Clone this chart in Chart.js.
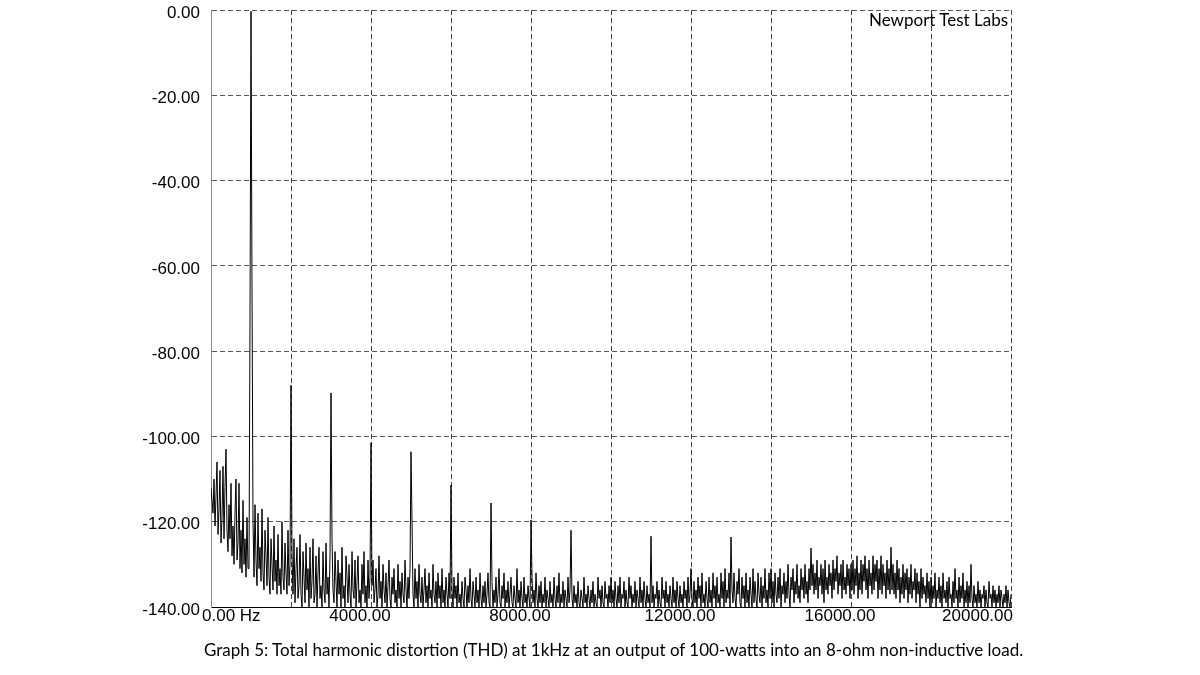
<!DOCTYPE html>
<html>
<head>
<meta charset="utf-8">
<script src="https://cdn.jsdelivr.net/npm/chart.js@4"></script>
<style>
  html, body { margin: 0; padding: 0; background: #fff; }
  #wrap { position: relative; width: 1200px; height: 675px; overflow: hidden; }
  #thdChart { position: absolute; left: 0; top: 0; }
  .brand { position: absolute; left: 869px; top: 9px; font: 17px Lato, "Open Sans", sans-serif; color: #000; white-space: nowrap; }
  .caption { position: absolute; left: 204px; top: 639px; font: 17px Lato, "Open Sans", sans-serif; color: #000; white-space: nowrap; }
</style>
</head>
<body>
<div id="wrap">
  <canvas id="thdChart" width="1200" height="675"></canvas>
  <div class="brand">Newport Test Labs</div>
  <div class="caption">Graph 5: Total harmonic distortion (THD) at 1kHz at an output of 100-watts into an 8-ohm non-inductive load.</div>
</div>
<script>
// шаг по частоте (Гц) между соседними точками спектра
const BIN_HZ = 25;

// уровни в dB, по 40 точек на каждый кГц (0 ... 20000 Гц)
const levelsDb = [
  // 0 - 975
  -112, -115, -118, -110, -121, -114, -106, -123, -117, -108,
  -125, -119, -107, -124, -112, -103, -122, -127, -116, -124,
  -111, -128, -121, -130, -118, -110, -129, -125, -111, -131,
  -122, -132, -115, -130, -124, -133, -119, -131, -131, -72,
  // 1000 - 1975 (основной тон)
  -0.3, -65, -120, -133, -116, -129, -135, -118, -131, -126,
  -134, -117, -132, -136, -122, -128, -135, -119, -133, -137,
  -124, -130, -136, -121, -134, -129, -137, -123, -135, -131,
  -137, -120, -133, -136, -125, -132, -137, -122, -135, -130,
  // 2000
  -88, -128, -137, -124, -139, -131, -126, -138, -135, -123,
  -137, -140, -127, -133, -139, -125, -136, -131, -140, -126,
  -138, -134, -124, -139, -137, -128, -140, -132, -126, -138,
  -135, -140, -127, -136, -139, -125, -137, -133, -140, -128,
  // 3000
  -89.8, -124, -136, -139, -127, -134, -140, -129, -137, -132,
  -140, -126, -138, -135, -140, -128, -133, -139, -130, -137,
  -140, -127, -136, -138, -129, -140, -134, -128, -139, -136,
  -140, -130, -137, -127, -139, -135, -140, -129, -138, -133,
  // 4000
  -101.5, -135, -129, -139, -136, -131, -140, -137, -128, -138,
  -134, -140, -130, -136, -139, -132, -140, -135, -129, -138,
  -140, -133, -137, -131, -139, -136, -140, -130, -138, -134,
  -140, -132, -137, -139, -129, -136, -140, -133, -138, -131,
  // 5000
  -103.6, -120, -137, -140, -131, -138, -134, -140, -130, -137,
  -139, -133, -140, -136, -131, -139, -135, -140, -132, -138,
  -136, -140, -130, -137, -139, -134, -140, -132, -138, -135,
  -140, -131, -139, -136, -140, -133, -137, -140, -132, -138,
  // 6000
  -111.4, -136, -140, -133, -138, -135, -140, -132, -139, -137,
  -140, -134, -138, -140, -133, -136, -140, -135, -139, -131,
  -138, -140, -134, -137, -140, -133, -139, -136, -140, -132,
  -138, -140, -135, -139, -134, -140, -137, -132, -139, -140,
  // 7000
  -115.6, -134, -140, -136, -139, -133, -140, -137, -131, -139,
  -140, -135, -138, -132, -140, -136, -139, -134, -140, -137,
  -133, -139, -140, -135, -138, -140, -131, -139, -136, -140,
  -134, -138, -140, -133, -139, -137, -140, -135, -138, -140,
  // 8000
  -119.6, -133, -139, -136, -140, -132, -138, -140, -135, -139,
  -134, -140, -137, -139, -133, -140, -136, -138, -140, -134,
  -139, -137, -140, -133, -138, -140, -135, -139, -132, -140,
  -137, -139, -134, -140, -136, -138, -140, -133, -139, -136,
  // 9000
  -122, -138, -140, -135, -139, -137, -140, -134, -139, -140,
  -136, -138, -140, -133, -139, -137, -140, -135, -138, -140,
  -136, -139, -134, -140, -137, -139, -140, -133, -138, -136,
  -140, -135, -139, -140, -134, -138, -137, -140, -135, -139,
  // 10000
  -133, -139, -136, -140, -134, -138, -140, -135, -139, -133,
  -140, -137, -138, -134, -140, -136, -139, -140, -133, -138,
  -135, -140, -137, -139, -134, -140, -136, -138, -140, -133,
  -139, -136, -140, -134, -138, -140, -135, -139, -137, -140,
  // 11000
  -123.4, -139, -135, -140, -137, -138, -134, -140, -136, -139,
  -140, -133, -138, -136, -140, -134, -139, -137, -140, -135,
  -138, -140, -133, -139, -136, -140, -134, -138, -140, -135,
  -139, -137, -140, -134, -138, -136, -140, -133, -139, -137,
  // 12000
  -131, -138, -140, -134, -139, -136, -140, -133, -138, -135,
  -140, -132, -139, -137, -140, -134, -138, -140, -133, -139,
  -136, -140, -132, -138, -135, -140, -133, -139, -137, -140,
  -132, -138, -134, -140, -131, -139, -136, -138, -132, -140,
  // 13000
  -123.6, -136, -139, -132, -138, -140, -134, -137, -131, -139,
  -140, -133, -138, -135, -140, -132, -139, -136, -140, -133,
  -137, -140, -131, -139, -134, -138, -140, -132, -137, -139,
  -133, -140, -135, -138, -131, -139, -136, -140, -132, -138,
  // 14000
  -131, -139, -134, -140, -132, -137, -139, -133, -138, -131,
  -140, -135, -137, -132, -139, -134, -138, -130, -137, -140,
  -133, -136, -131, -139, -134, -137, -130, -138, -135, -139,
  -131, -136, -133, -138, -130, -137, -134, -139, -131, -136,
  // 15000
  -126.2, -135, -130, -137, -132, -136, -129, -138, -133, -135,
  -130, -137, -131, -139, -129, -136, -133, -137, -130, -135,
  -132, -138, -129, -136, -131, -134, -128, -137, -132, -135,
  -130, -138, -129, -136, -133, -137, -130, -135, -131, -138,
  // 16000
  -130, -136, -129, -137, -131, -135, -128, -138, -132, -136,
  -129, -137, -130, -134, -128, -136, -131, -138, -129, -135,
  -132, -137, -128, -136, -130, -134, -129, -138, -131, -136,
  -128, -137, -130, -135, -132, -138, -129, -136, -131, -137,
  // 17000
  -126, -136, -130, -137, -132, -138, -129, -136, -131, -139,
  -133, -137, -130, -138, -132, -136, -131, -139, -133, -137,
  -130, -138, -134, -136, -131, -139, -132, -137, -134, -140,
  -131, -138, -133, -137, -135, -139, -132, -138, -134, -140,
  // 18000
  -133, -139, -135, -138, -132, -140, -136, -138, -133, -139,
  -135, -140, -132, -138, -136, -139, -134, -140, -133, -138,
  -137, -140, -134, -139, -131, -138, -136, -140, -133, -139,
  -135, -138, -132, -140, -136, -139, -134, -140, -135, -139,
  // 19000
  -130, -138, -140, -135, -139, -137, -140, -134, -139, -136,
  -140, -137, -138, -135, -140, -136, -139, -140, -134, -138,
  -137, -140, -135, -139, -136, -140, -137, -139, -135, -140,
  -136, -138, -140, -137, -139, -135, -140, -136, -139, -140,
  // 20000
  -137
];

// подписи по осям
const xTickValues = [0, 4000, 8000, 12000, 16000, 20000];
const xTickLabels = ["0.00 Hz", "4000.00", "8000.00", "12000.00", "16000.00", "20000.00"];

const TICK_FONT = { family: '"Liberation Sans", Arial, sans-serif', size: 17 };

// рисуем подписи оси X сами: первая прижата влево, последняя вправо
const xLabelsPlugin = {
  id: "xLabels",
  afterDraw(chart) {
    const { ctx, scales } = chart;
    const x = scales.x;
    ctx.save();
    ctx.font = `${TICK_FONT.size}px ${TICK_FONT.family}`;
    ctx.fillStyle = "#000";
    ctx.textBaseline = "alphabetic";
    xTickValues.forEach((v, i) => {
      const px = x.getPixelForValue(v);
      if (i === 0) {
        ctx.textAlign = "left";
        ctx.fillText(xTickLabels[i], px - 9, 621);
      } else if (i === xTickValues.length - 1) {
        ctx.textAlign = "right";
        ctx.fillText(xTickLabels[i], px + 2, 621);
      } else {
        ctx.textAlign = "center";
        ctx.fillText(xTickLabels[i], px - 11, 621);
      }
    });
    ctx.restore();
  },
};

const points = levelsDb.map((v, i) => ({ x: i * BIN_HZ, y: v }));

new Chart(document.getElementById("thdChart"), {
  type: "line",
  data: {
    datasets: [
      {
        label: "THD",
        data: points,
        borderColor: "#000",
        borderWidth: 1,
        pointRadius: 0,
        tension: 0,
        fill: false,
      },
    ],
  },
  options: {
    responsive: false,
    animation: false,
    events: [],
    layout: { padding: { top: 10, right: 189, left: 0, bottom: 0 } },
    plugins: { legend: { display: false }, tooltip: { enabled: false } },
    scales: {
      x: {
        type: "linear",
        min: 0,
        max: 20000,
        afterFit(scale) {
          scale.height = 68;
          scale.paddingLeft = 0;
          scale.paddingRight = 0;
        },
        ticks: { display: false, stepSize: 2000 },
        grid: {
          drawTicks: false,
          color: (c) => (c.tick && c.tick.value === 0 ? "rgba(0,0,0,0)" : "#444"),
          lineWidth: 1,
        },
        border: { display: true, color: "#000", width: 1, dash: [5, 3] },
      },
      y: {
        min: -140,
        max: 0,
        afterFit(scale) {
          scale.width = 211;
          scale.paddingTop = 0;
          scale.paddingBottom = 0;
        },
        ticks: {
          stepSize: 20,
          padding: 11,
          labelOffset: 3,
          color: "#000",
          font: TICK_FONT,
          callback: (v) => v.toFixed(2),
        },
        grid: {
          drawTicks: false,
          color: (c) => (c.tick && c.tick.value === -140 ? "rgba(0,0,0,0)" : "#555"),
          lineWidth: 1,
        },
        border: { display: true, color: "#888", width: 1, dash: [5, 3] },
      },
    },
  },
  plugins: [xLabelsPlugin],
});
</script>
</body>
</html>
